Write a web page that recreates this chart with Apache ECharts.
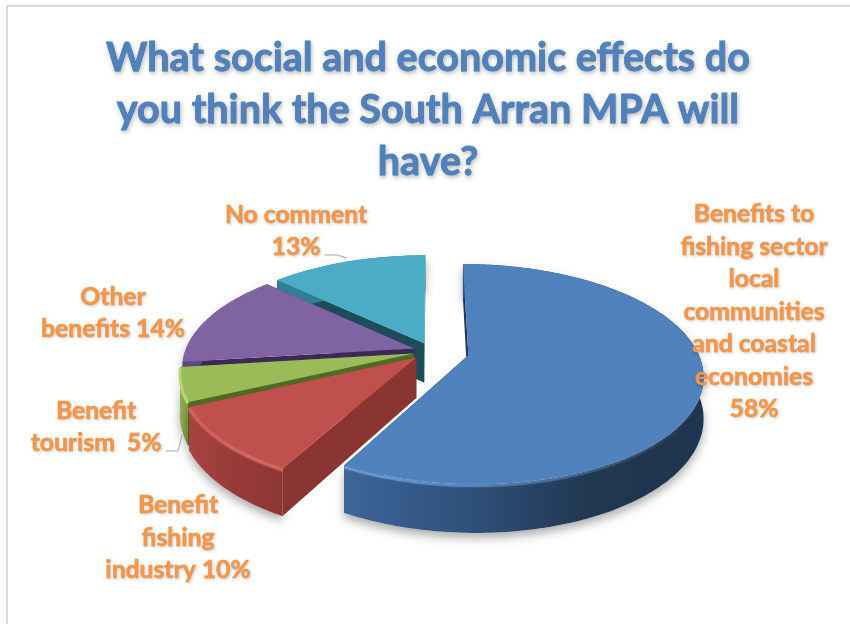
<!DOCTYPE html>
<html><head><meta charset="utf-8">
<style>html,body{margin:0;padding:0;background:#fff}#c{width:850px;height:624px}</style>
<script src="https://cdn.jsdelivr.net/npm/echarts@6/dist/echarts.min.js"></script>
</head><body><div id="c"></div>
<script>
const categories = ["Benefits to\nfishing sector\nlocal\ncommunities\nand coastal\neconomies", "Benefit\nfishing\nindustry", "Benefit\ntourism ", "Other\nbenefits", "No comment\n"];
const shareValues = [58, 10, 5, 14, 13];
const titleText = "What social and economic effects do\nyou think the South Arran MPA will\nhave?";

// layout and styling
const explode = [0.165, 0.09, 0.081, 0.08, 0.08];
const labelCentres = [[754, 312], [178, 538], [96, 427], [113, 313], [296, 231]];
const topColors = ['#4F81BD', '#C0504D', '#9BBB59', '#8064A2', '#4BACC6'];
const faceColors = ['#1d3552', '#8a3532', '#4d6b22', '#3b2a57', '#1c4d5b'];
const wallStops = [
  ['#3d6699', '#2e507a', '#20374f', '#1f3550'],
  ['#a9433f', '#9c3d3a', '#933936', '#8c3633'],
  ['#93b254', '#8aa84c', '#819e45', '#7a9540'],
  ['#5f4a7d', '#5f4a7d', '#5f4a7d', '#5f4a7d'],
  ['#2f7f95', '#2f7f95', '#2f7f95', '#2f7f95']
];
const rimColors = ['#6a9bd8', '#d9605a', '#b8d873', '#9a7fbd', '#66c4dc'];
const X0 = 431.5, Y0 = 351, A = 229, B = 105.4, K = 0.17, D = 40;
const total = shareValues.reduce((a, b) => a + b, 0);

function project(U, V, h) {
  const den = 1 - K * V;
  return [X0 + A * U / den, Y0 + (B * V + D * h) / den];
}
function renderSlice(params, api) {
  const i = params.dataIndex;
  let before = 0;
  for (let j = 0; j < i; j++) before += shareValues[j];
  const a0 = before / total * 2 * Math.PI;
  const a1 = (before + api.value(0)) / total * 2 * Math.PI;
  const mid = (a0 + a1) / 2;
  const ox = Math.sin(mid) * explode[i], oy = -Math.cos(mid) * explode[i];
  const at = (a, h) => project(ox + Math.sin(a), oy - Math.cos(a), h);
  const apex = h => project(ox, oy, h);
  const steps = Math.max(6, Math.round((a1 - a0) * 180 / Math.PI));
  const arcTop = [], arcBot = [];
  for (let s = 0; s <= steps; s++) {
    const a = a0 + (a1 - a0) * s / steps;
    arcTop.push(at(a, 0));
    arcBot.push(at(a, 1));
  }
  const base = (4 - i) * 10;
  const children = [];
  const poly = (points, fill, z, extra) => children.push({
    type: 'polygon', z2: base + z, shape: { points },
    style: Object.assign({ fill, stroke: null }, extra || {})
  });
  poly(arcTop.concat(arcBot.slice().reverse()), '#fff', 0, {
    shadowColor: 'rgba(0,0,0,0.32)', shadowBlur: 10, shadowOffsetY: 5
  });
  poly([apex(0), at(a0, 0), at(a0, 1), apex(1)], faceColors[i], 1);
  poly([apex(0), at(a1, 0), at(a1, 1), apex(1)], faceColors[i], 1);
  const w = wallStops[i];
  poly(arcTop.concat(arcBot.slice().reverse()), {
    type: 'linear', x: 0, y: 0, x2: 1, y2: 0,
    colorStops: [{ offset: 0, color: w[0] }, { offset: 0.35, color: w[1] }, { offset: 0.7, color: w[2] }, { offset: 1, color: w[3] }]
  }, 2);
  poly([apex(0)].concat(arcTop), topColors[i], 3);
  const rim = [];
  for (let s = 0; s <= steps; s++) {
    const a = a0 + (a1 - a0) * s / steps;
    if (-Math.cos(a) > -0.05 && i < 3) rim.push(at(a, 0.03));
  }
  if (rim.length > 1) {
    children.push({
      type: 'polyline', z2: base + 4, shape: { points: rim },
      style: {
        fill: null, lineWidth: 2.5,
        stroke: { type: 'linear', x: 0, y: 0, x2: 1, y2: 0,
          colorStops: i === 0
            ? [{ offset: 0, color: rimColors[0] }, { offset: 0.55, color: 'rgba(90,140,200,0.5)' }, { offset: 1, color: 'rgba(90,140,200,0)' }]
            : [{ offset: 0, color: rimColors[i] }, { offset: 1, color: rimColors[i] }] },
        shadowColor: 'rgba(255,255,255,0.25)', shadowBlur: 2
      }
    });
  }
  const c = labelCentres[i];
  const text = categories[i] + (categories[i].endsWith('\n') ? '' : (i === 0 ? '\n' : ' ')) + api.value(0) + '%';
  children.push({
    type: 'text', z2: 200, x: c[0], y: c[1],
    style: {
      text, align: 'center', verticalAlign: 'middle',
      font: 'bold 24.7px Lato', lineHeight: 32.5, fill: '#F79646',
      stroke: '#F79646', lineWidth: 0.5,
      textShadowColor: 'rgba(0,0,0,0.18)', textShadowBlur: 3, textShadowOffsetX: 1, textShadowOffsetY: 1
    }
  });
  return { type: 'group', children };
}

const chart = echarts.init(document.getElementById('c'), null, { renderer: 'canvas', width: 850, height: 624 });
chart.setOption({
  animation: false,
  backgroundColor: '#fff',
  title: {
    text: titleText, left: 423, top: 27, textAlign: 'center',
    textStyle: {
      fontFamily: 'Lato', fontWeight: 'bold', fontSize: 39.5, lineHeight: 52, color: '#4F81BD',
      textBorderColor: '#4F81BD', textBorderWidth: 0.8,
      textShadowColor: 'rgba(0,0,0,0.25)', textShadowBlur: 4, textShadowOffsetX: 1, textShadowOffsetY: 2
    }
  },
  graphic: [
    { type: 'line', shape: { x1: 6, y1: 6, x2: 850, y2: 6 }, style: { stroke: '#d9d9d9', lineWidth: 2 } },
    { type: 'line', shape: { x1: 7, y1: 6, x2: 7, y2: 624 }, style: { stroke: '#d9d9d9', lineWidth: 2 } },
    { type: 'polyline', shape: { points: [[324, 255], [337, 255], [347, 258]] }, style: { fill: null, stroke: '#a6a6a6', lineWidth: 1 } },
    { type: 'polyline', shape: { points: [[166, 451], [178, 451], [182, 435]] }, style: { fill: null, stroke: '#a6a6a6', lineWidth: 1 }, z: 5 }
  ],
  series: [{
    type: 'custom', coordinateSystem: 'none', silent: true,
    renderItem: renderSlice,
    data: shareValues.map(v => [v])
  }]
});
</script></body></html>
